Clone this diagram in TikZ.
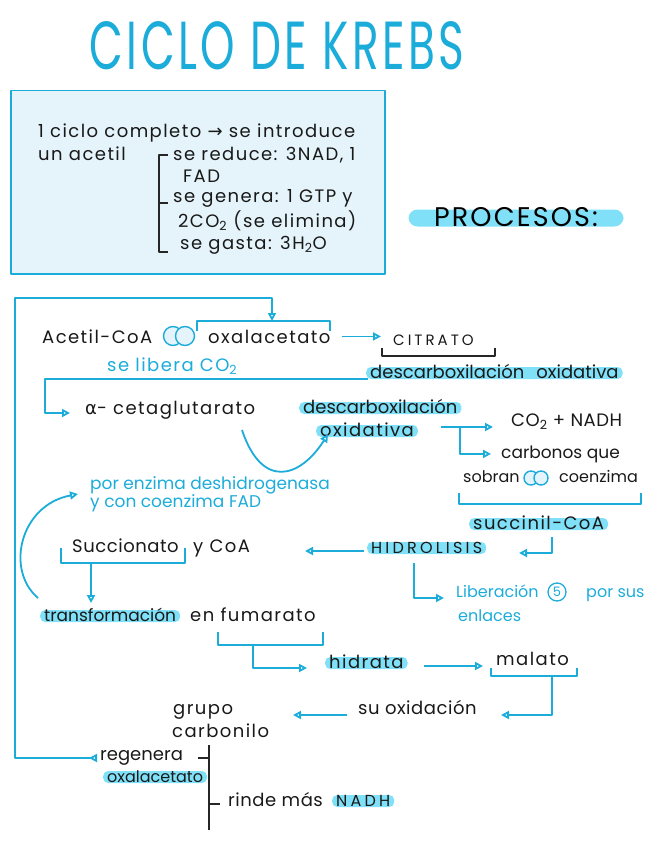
\documentclass[tikz,border=0pt]{standalone}
\usepackage{fontspec}
\setmainfont{Poppins}[LetterSpace=8]
\newfontfamily\griega{DejaVu Sans}
\usepackage{graphicx}
\usepackage{tikz}
\usetikzlibrary{positioning, arrows.meta}

\definecolor{azul}{HTML}{1CACDA}
\definecolor{resalte}{HTML}{7FE0F7}
\definecolor{fondo}{HTML}{E4F4FA}

\begin{document}
\begin{tikzpicture}[x=1pt, y=-1pt, line join=round,
    >={Triangle[open, length=8pt, width=8pt]},
    txt/.style={anchor=base west, inner sep=0pt, text=black!90, font=\fontsize{18}{21}\selectfont},
    nota/.style={txt, text=azul},
    resal/.style={txt, fill=resalte, rounded corners=5pt, text height=10pt, text depth=0pt, inner ysep=1pt, inner xsep=4pt},
    junto/.style={font=\fontsize{#1}{21}\selectfont\addfontfeature{LetterSpace=0}},
    junto/.default=18,
    medio/.style={font=\fontsize{18}{21}\selectfont\addfontfeature{LetterSpace=3}},
    mayus/.style={font=\fontsize{#1}{18}\selectfont\addfontfeature{LetterSpace=20}},
    mayus/.default=15,
    linea/.style={draw=azul, line width=1.8pt},
    flecha/.style={linea, ->},
    corchete/.style={draw=black!85, line width=1.4pt},
    union/.style={circle, draw=azul, fill=fondo, line width=1.4pt, minimum size=19pt, inner sep=0pt}]
    \useasboundingbox (0,0) rectangle (656,848);

    % titulo y recuadro
    \node[text=azul, inner sep=0pt] (titulo) at (277,46) {\resizebox{375pt}{48pt}{\fontsize{60}{60}\selectfont CICLO DE KREBS}};
    \node[draw=azul, fill=fondo, line width=1.5pt, minimum width=374pt, minimum height=183pt, inner sep=0pt, anchor=north west] (caja) at (10,90) {};
    \node[txt] (ciclo) at (38,137) {1 ciclo completo {\griega →} se introduce};
    \node[txt] (acetil) at (38,160) {un acetil};
    \node[txt] (reduce) at (173,160) {se reduce: 3NAD, 1};
    \node[txt] (fad) at (183,182) {FAD};
    \node[txt] (genera) at (173,202) {se genera: 1 GTP y};
    \node[txt] (elimina) at (178,227) {2CO\textsubscript{2} (se elimina)};
    \node[txt] (gasta) at (180,249) {se gasta: 3H\textsubscript{2}O};
    \draw[corchete] (168,155) -| (159,252) -- (168,252);
    \draw[corchete] (159,203) -- (168,203);

    \node[fill=resalte, rounded corners=9pt, minimum width=215pt, text height=17pt, text depth=0pt, inner ysep=0pt, font=\fontsize{27}{27}\selectfont] (procesos) at (516,218) {PROCESOS:};

    % procesos
    \node[txt] (acetilcoa) at (42,343) {Acetil-CoA};
    \node[union] (u1) at (173,336) {};
    \node[union] (u2) at (185,336) {};
    \node[txt] (oxal) at (208,343) {oxalacetato};
    \node[txt, mayus] (citrato) at (393,345) {CITRATO};
    \node[nota] (libera) at (107,371) {se libera CO\textsubscript{2}};
    \node[resal, junto] (descox) at (366,378) {descarboxilación\hspace{12pt}oxidativa};
    \node[txt] (alfa) at (85,414) {{\griega α}- cetaglutarato};
    \node[resal, junto] (descb) at (299,413) {descarboxilación};
    \node[resal] (oxidb) at (316,436) {oxidativa};
    \node[txt, medio] (co2) at (511,426) {CO\textsubscript{2} + NADH};
    \node[txt, junto=17] (carb) at (501,458) {carbonos que};
    \node[txt, junto=16] (sobran) at (463,482) {sobran};
    \node[union, minimum size=14pt] (u3) at (531,478) {};
    \node[union, minimum size=14pt] (u4) at (541,478) {};
    \node[txt, junto=16] (coenz) at (559,482) {coenzima};
    \node[resal] (succinil) at (469,529) {succinil-CoA};
    \node[resal, mayus=16] (hidro) at (367,553) {HIDROLISIS};
    \node[nota, junto=16] (liber) at (456,597) {Liberación};
    \node[circle, draw=azul, text=azul, line width=1.3pt, minimum size=18pt, inner sep=0pt, font=\fontsize{13}{13}\selectfont] (cinco) at (557,592) {5};
    \node[nota, junto=16] (porsus) at (586,597) {por sus};
    \node[nota, junto=16] (enlaces) at (458,621) {enlaces};
    \node[nota, junto=17] (enzima) at (90,489) {por enzima deshidrogenasa};
    \node[nota, junto=17] (coenzfad) at (90,507) {y con coenzima FAD};
    \node[txt, medio] (succionato) at (72,552) {Succionato};
    \node[txt] (coa) at (193,552) {y CoA};
    \node[resal, junto=17] (transf) at (40,621) {transformación};
    \node[txt] (fumarato) at (190,621) {en fumarato};
    \node[resal] (hidrata) at (325,668) {hidrata};
    \node[txt] (malato) at (496,665) {malato};
    \node[txt, medio] (suox) at (358,714) {su oxidación};
    \node[txt] (grupo) at (173,714) {grupo};
    \node[txt] (carbonilo) at (172,737) {carbonilo};
    \node[txt, junto] (regenera) at (100,760) {regenera};
    \node[resal, junto=16] (oxalb) at (103,782) {oxalacetato};
    \node[txt, medio] (rinde) at (228,806) {rinde más};
    \node[resal, mayus=16] (nadh) at (332,806) {NADH};

    % puntos de las flechas
    \coordinate (vuelta) at (97,758);
    \coordinate (lazo) at (15,298);
    \coordinate (llave) at (272,321);
    \coordinate (bajada) at (368,379);
    \coordinate (codo) at (45,413);
    \coordinate (curva) at (242,430);
    \coordinate (salida) at (441,427);
    \coordinate (rama) at (460,427);
    \coordinate (s1) at (552,537);
    \coordinate (s2) at (519,553);
    \coordinate (h1) at (364,551);
    \coordinate (h2) at (305,551);
    \coordinate (h3) at (414,563);
    \coordinate (h4) at (444,598);
    \coordinate (f1) at (91,563);
    \coordinate (f2) at (91,603);
    \coordinate (g1) at (38,598);
    \coordinate (g2) at (78,494);
    \coordinate (m1) at (253,645);
    \coordinate (m2) at (307,668);
    \coordinate (n1) at (424,666);
    \coordinate (n2) at (483,666);
    \coordinate (o1) at (552,676);
    \coordinate (o2) at (501,715);
    \coordinate (q1) at (347,715);
    \coordinate (q2) at (293,715);

    \draw[linea, >->] (vuelta) -| (lazo) -| (llave);
    \draw[linea] (197,331) |- (llave) -| (330,331);
    \draw[flecha] ([xshift=11pt]oxal.east) -- ([xshift=-12pt]oxal.east -| citrato.west);
    \draw[corchete] (382,348) |- (495,356) -- (495,348);
    \draw[flecha, shorten >=15pt] (bajada) -| (codo) -- (codo -| alfa.west);
    \draw[flecha] (curva) .. controls (262,490) and (300,478) .. ([shift={(12,-3)}]oxidb.south west);
    \draw[flecha, shorten >=18pt] (salida) -- (salida -| co2.west);
    \draw[flecha, shorten >=10pt] (rama) |- (carb.west);
    \draw[linea] (459,493) |- (641,504) -- (641,493);
    \draw[flecha] (s1) |- (s2);
    \draw[flecha] (h1) -- (h2);
    \draw[flecha] (h3) |- (h4);
    \draw[linea] (61,548) |- (185,563) -- (185,548);
    \draw[flecha] (f1) -- (f2);
    \draw[flecha] (g1) .. controls (5,570) and (20,505) .. (g2);
    \draw[linea] (218,632) |- (323,645) -- (323,632);
    \draw[flecha] (m1) |- (m2);
    \draw[flecha] (n1) -- (n2);
    \draw[linea] (491,668) |- (577,676) -- (577,668);
    \draw[flecha] (o1) |- (o2);
    \draw[flecha] (q1) -- (q2);
    \draw[corchete] (209,745) -- (209,830);
    \draw[corchete] (198,758) -- (209,758);
    \draw[corchete] (209,804) -- (220,804);
\end{tikzpicture}
\end{document}
